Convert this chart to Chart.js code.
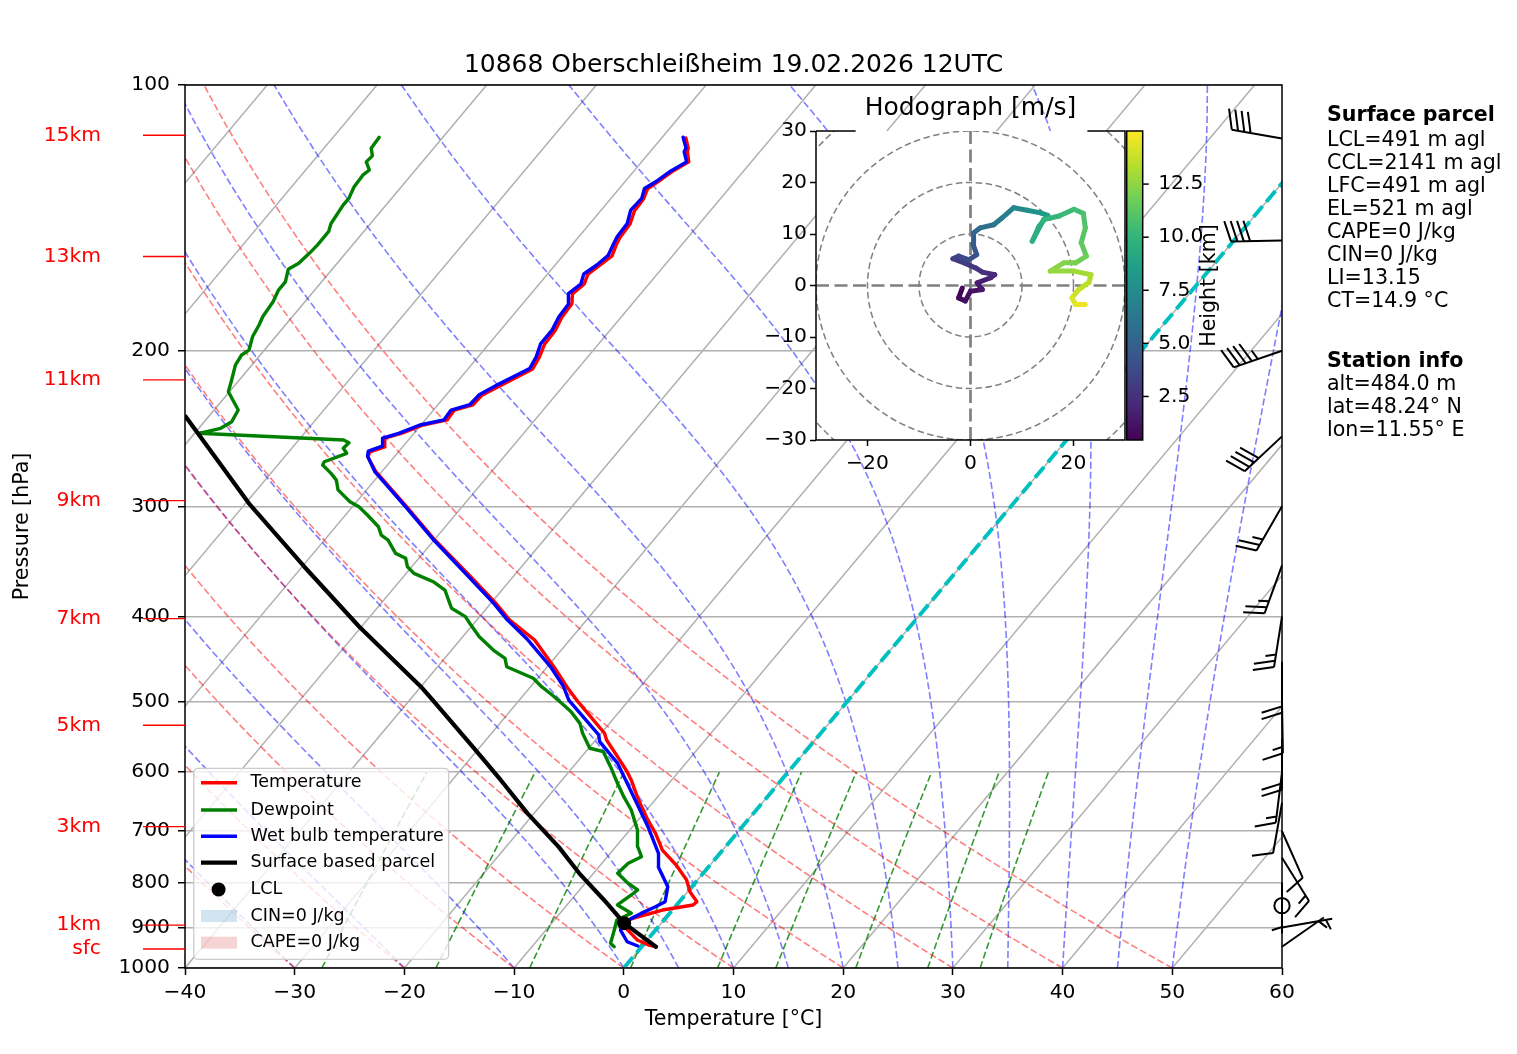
<!DOCTYPE html>
<html>
<head>
<meta charset="utf-8">
<title>10868 Oberschleißheim sounding</title>
<script src="https://cdn.jsdelivr.net/npm/chart.js@4.4.1/dist/chart.umd.min.js"></script>
<style>
  html, body { margin: 0; padding: 0; background: #fff; overflow: hidden; }
  #wrap { position: relative; width: 1517px; height: 1054px; }
  #skewChart { position: absolute; left: 0; top: 0; }
  #hodoChart { position: absolute; left: 740px; top: 80px; }
</style>
</head>
<body>
<div id="wrap">
  <canvas id="skewChart" width="1517" height="1054"></canvas>
  <canvas id="hodoChart" width="560" height="410"></canvas>
</div>
<script>
// ── Sounding (pressure hPa / temperature °C) ──
const tempP = [946, 941.8, 929.6, 913.5, 897.9, 882.4, 874.9, 859.7, 848.6, 841.3, 819.7, 795, 764.5, 735.2, 703.9, 680, 645.3, 612.4, 599.4, 578.8, 551.8, 542.2, 499.7, 480.2, 455.9, 425.2, 403.6, 386, 360.8, 327.8, 300.6, 274.3, 263.8, 260.4, 257, 251.1, 247.9, 242.7, 239.5, 233.4, 230.3, 224.4, 218.1, 209.7, 203.2, 196.6, 189.5, 183.2, 177, 172.5, 168, 163.8, 160, 156.2, 151.4, 148.7, 143.7, 138.9, 134.5, 131.1, 128.7, 125.4, 122.2, 119, 117.9, 114.8];
const tempC = [1.3, 0.5, -0.9, -2.0, -3.1, -3.3, -2.6, -0.9, 1.5, 1.6, 0.2, -1.0, -3.1, -5.5, -7.4, -9.1, -11.5, -13.7, -14.7, -16.5, -19.0, -19.7, -24.5, -26.7, -29.4, -33.2, -37.0, -39.6, -43.8, -49.9, -55.0, -60.5, -62.4, -62.6, -61.6, -62.3, -61.1, -59.8, -58.0, -58.1, -56.8, -56.7, -55.6, -54.1, -54.4, -54.9, -55.0, -55.4, -55.5, -56.2, -55.9, -56.3, -55.9, -55.5, -56.0, -56.2, -56.3, -56.9, -57.0, -57.4, -57.0, -56.5, -55.7, -56.6, -56.8, -57.8];

const dewP = [946, 937.6, 913.5, 882.4, 867, 848.4, 826.6, 815.8, 801.7, 781.1, 761, 748, 728.9, 697.8, 662.3, 639.7, 617.7, 591.6, 568.9, 563.8, 542.2, 528.4, 512.5, 501.4, 490.7, 480.2, 469.8, 455.9, 446, 436.4, 421.5, 407, 400, 391.4, 383.1, 373.2, 365.2, 357.3, 351.2, 343.6, 339.2, 327.6, 323.4, 316.4, 306.9, 300.4, 296.5, 287.4, 280.2, 275.3, 269.4, 267.1, 261.3, 257.9, 254.2, 252.4, 248, 244.8, 240.6, 233.4, 222.5, 215.8, 207.5, 202.2, 199.6, 192.8, 187, 183, 176, 170.7, 167.1, 161.7, 159.2, 155.1, 151.8, 146.6, 143.5, 136.8, 134.4, 130.4, 126.5, 124.8, 122.2, 120.3, 117.9, 114.6];
const dewC = [-2.5, -3.1, -3.6, -4.3, -3.5, -5.4, -4.9, -4.7, -6.1, -7.8, -7.6, -6.9, -8.0, -9.3, -11.4, -13.1, -14.7, -16.6, -18.4, -19.9, -21.7, -22.7, -24.4, -25.9, -27.4, -29.0, -30.4, -33.7, -34.5, -36.2, -38.5, -40.4, -41.3, -43.2, -44.1, -45.2, -46.9, -49.3, -50.4, -51.2, -52.5, -54.2, -55.2, -56.1, -58.0, -59.4, -60.6, -62.6, -63.5, -64.5, -65.9, -66.0, -64.6, -65.3, -65.2, -65.9, -79.6, -78.0, -77.5, -77.8, -80.1, -80.7, -81.5, -81.7, -81.4, -82.1, -82.4, -82.7, -82.9, -83.3, -83.3, -84.0, -83.5, -83.3, -83.2, -83.2, -83.6, -83.9, -83.9, -84.3, -84.4, -84.2, -85.1, -85.0, -85.7, -85.8];

const wetP = [944.2, 933.8, 905.8, 889.6, 878.6, 867.3, 852.3, 841.3, 809.1, 767.9, 741.6, 691.8, 656.6, 615.2, 586.5, 554.2, 544.6, 497.2, 480.2, 455.9, 425.2, 403.6, 386, 360.8, 327.8, 300.6, 274.3, 263.1, 259.8, 256.5, 251.1, 248, 242.7, 239.5, 233.4, 230.2, 224.3, 218, 209.5, 203.2, 196.3, 189.5, 183, 177, 172.3, 168.1, 163.7, 159.9, 155.9, 151.2, 148.6, 143.5, 138.6, 134.4, 131, 128.7, 125.4, 122.2, 119, 117.9, 114.6];
const wetC = [-0.4, -1.7, -3.2, -3.4, -3.1, -2.6, -1.8, -1.3, -2.2, -4.6, -5.6, -8.6, -11.0, -14.0, -16.2, -19.5, -20.1, -25.5, -27.0, -29.7, -33.8, -37.2, -39.8, -44.0, -50.0, -55.1, -60.6, -62.5, -62.8, -61.9, -62.5, -61.4, -60.1, -58.3, -58.4, -57.1, -57.0, -56.0, -54.4, -54.7, -55.3, -55.3, -55.7, -55.8, -56.6, -56.2, -56.7, -56.2, -55.9, -56.3, -56.5, -56.6, -57.3, -57.2, -57.7, -57.2, -56.7, -55.9, -56.9, -57.0, -58.1];

const parcelP = [946, 889.6, 837.5, 781.2, 729.1, 668.2, 612.4, 561.5, 497.2, 480.2, 410.7, 351.2, 297.7, 237.4];
const parcelC = [1.3, -3.4, -7.0, -11.3, -15.2, -20.6, -25.6, -30.7, -37.9, -40.0, -50.2, -59.8, -69.7, -82.1];
const lclP = 889.6;
const lclC = -3.4;

// ── Wind barbs (knots) ──
const barbP   = [115, 150, 200, 250, 300, 350, 400, 450, 500, 550, 600, 650, 700, 750, 800, 850, 900, 946];
const barbDir = [280, 269, 251, 227, 210, 200, 189, 180, 179, 180, 187, 190, 156, 148, 180, 0, 80, 55];
const barbKt  = [40, 40, 45, 40, 25, 25, 25, 20, 15, 20, 15, 10, 10, 15, 5, 0, 5, 5];

// ── Hodograph (m/s, height km) ──
const hodoU = [-1.6, -2.3, -1.0, 0.0, 2.3, 1.3, 3.9, 4.7, 2.3, 1.0, -1.0, -3.4, -2.3, -0.3, 1.2, 0.5, 0.6, 1.9, 4.5, 6.1, 8.4, 11.0, 13.6, 15.0, 13.3, 12.0, 14.2, 17.2, 20.1, 21.9, 22.3, 21.5, 22.5, 20.4, 18.1, 15.5, 20.1, 23.4, 23.0, 21.0, 19.7, 20.4, 22.3];
const hodoV = [-0.5, -2.4, -3.0, -1.1, -0.8, 0.5, 1.5, 2.1, 2.6, 3.4, 4.3, 5.2, 5.7, 5.0, 6.0, 8.0, 10.2, 11.2, 11.8, 13.1, 15.1, 14.6, 14.1, 13.6, 11.5, 8.6, 12.8, 13.5, 14.8, 14.0, 11.2, 8.3, 5.7, 4.4, 4.4, 2.8, 2.8, 2.1, 0.6, -0.8, -2.4, -3.7, -3.7];
const hodoH = [0.48, 0.7, 0.9, 1.1, 1.3, 1.5, 1.8, 2.0, 2.3, 2.6, 2.9, 3.2, 3.5, 3.8, 4.1, 4.5, 5.0, 5.5, 6.0, 6.5, 7.0, 7.5, 8.0, 8.5, 9.0, 9.4, 9.8, 10.1, 10.4, 10.7, 11.0, 11.3, 11.6, 11.9, 12.2, 12.5, 12.8, 13.1, 13.4, 13.7, 14.0, 14.4, 14.8];
const hodoHMin = 0.45;
const hodoHMax = 15.0;
const hodoRings = [10, 20, 30, 40];
const hodoTicksX = [-20, 0, 20];
const hodoTicksY = [-30, -20, -10, 0, 10, 20, 30];
const cbTicks = [2.5, 5.0, 7.5, 10.0, 12.5];

// ── Axes, reference lines, labels ──
const pressureTicks = [100, 200, 300, 400, 500, 600, 700, 800, 900, 1000];
const tempTicks = [-40, -30, -20, -10, 0, 10, 20, 30, 40, 50, 60];
const isoTemps = [-120, -110, -100, -90, -80, -70, -60, -50, -40, -30, -20, -10, 0, 10, 20, 30, 40, 50, 60];
const dryT0 = [-40, -30, -20, -10, 0, 10, 20, 30, 40, 50];
const moistT0 = [-40, -30, -20, -10, 0, 5, 10, 15, 20, 25, 30, 35, 40, 45, 50];
const mixRatios = [0.0004, 0.001, 0.002, 0.004, 0.007, 0.01, 0.016, 0.024, 0.032];
const heightLabels = ['15km', '13km', '11km', '9km', '7km', '5km', '3km', '1km', 'sfc'];
const heightP = [114, 156.4, 215.7, 295.6, 402, 531, 691.5, 894, 951.6];

const titleText = '10868 Oberschleißheim 19.02.2026 12UTC';
const parcelInfo = ['LCL=491 m agl', 'CCL=2141 m agl', 'LFC=491 m agl', 'EL=521 m agl', 'CAPE=0 J/kg', 'CIN=0 J/kg', 'LI=13.15', 'CT=14.9 °C'];
const stationInfo = ['alt=484.0 m', 'lat=48.24° N', 'lon=11.55° E'];

const FONT = 'DejaVu Sans';
const RED = '#ff0000';
const GREEN = '#008000';
const BLUE = '#0000ff';
const GRID = '#b0b0b0';
const VIRIDIS = ['#440154', '#482878', '#3e4989', '#31688e', '#26828e', '#1f9e89', '#35b779', '#6ece58', '#b5de2b', '#fde725'];

Chart.defaults.font.family = FONT;
Chart.defaults.font.size = 20.3;
Chart.defaults.color = '#000';

const minus = v => String(v).replace('-', '\u2212');

// skew-T projection: isotherms lean right by SKEW °C per pressure decade
const SKEW = 67.5;
const skewX = (t, p) => t + SKEW * Math.log10(1000 / p);
const toPoints = (pArr, tArr) => pArr.map((p, i) => ({ x: skewX(tArr[i], p), y: p }));

// thermodynamic reference curves
const Rd = 287.04749, Cpd = 1004.6662, Lv = 2.50084e6, EPS = 0.6219569;
const satVap = tc => 6.112 * Math.exp(17.67 * tc / (tc + 243.5));
const levels = [];
for (let p = 1000; p >= 100; p -= 10) levels.push(p);
const mixLevels = [];
for (let p = 1000; p >= 600; p -= 25) mixLevels.push(p);

function dryAdiabat(t0) {
    return levels.map(p => (t0 + 273.15) * Math.pow(p / 1000, Rd / Cpd) - 273.15);
}
function moistGradient(p, tk) {
    const es = satVap(tk - 273.15);
    const rs = EPS * es / (p - es);
    return (Rd * tk + Lv * rs) / (Cpd + Lv * Lv * rs * EPS / (Rd * tk * tk)) / p;
}
function moistAdiabat(t0) {
    let tk = t0 + 273.15;
    const out = [t0];
    for (let i = 1; i < levels.length; i++) {
        const p = levels[i - 1], h = levels[i] - p;
        const k1 = moistGradient(p, tk);
        const k2 = moistGradient(p + h / 2, tk + h * k1 / 2);
        const k3 = moistGradient(p + h / 2, tk + h * k2 / 2);
        const k4 = moistGradient(p + h, tk + h * k3);
        tk += h * (k1 + 2 * k2 + 2 * k3 + k4) / 6;
        out.push(tk - 273.15);
    }
    return out;
}
function mixingLine(w) {
    return mixLevels.map(p => {
        const l = Math.log(p * w / (EPS + w) / 6.112);
        return 243.5 * l / (17.67 - l);
    });
}

function viridis(t) {
    t = Math.max(0, Math.min(1, t));
    const f = t * 9, i = Math.min(8, Math.floor(f)), r = f - i;
    const a = VIRIDIS[i], b = VIRIDIS[i + 1];
    const c = k => Math.round(parseInt(a.substr(k, 2), 16) * (1 - r) + parseInt(b.substr(k, 2), 16) * r);
    return `rgb(${c(1)},${c(3)},${c(5)})`;
}

// ── Datasets ──
const ref = (data, color, width, dash, order) => ({
    data, borderColor: color, borderWidth: width, borderDash: dash,
    pointRadius: 0, order, clip: 0, borderCapStyle: 'butt'
});
const datasets = [];
isoTemps.forEach(t => datasets.push(ref([{ x: t, y: 1000 }, { x: skewX(t, 100), y: 100 }], GRID, 1.5, [], 60)));
dryT0.forEach(t => datasets.push(ref(toPoints(levels, dryAdiabat(t)), 'rgba(255,0,0,0.5)', 1.6, [7, 3], 50)));
moistT0.forEach(t => datasets.push(ref(toPoints(levels, moistAdiabat(t)), 'rgba(0,0,255,0.5)', 1.6, [7, 3], 50)));
mixRatios.forEach(w => datasets.push(ref(toPoints(mixLevels, mixingLine(w)), 'rgba(0,128,0,0.8)', 1.6, [7, 3], 50)));
datasets.push(ref([{ x: 0, y: 1000 }, { x: skewX(0, 100), y: 100 }], '#00bfbf', 3.9, [14, 6], 40));

const profile = (pArr, tArr, color, width, order) => ({
    data: toPoints(pArr, tArr), borderColor: color, borderWidth: width,
    pointRadius: 0, order, clip: 0, borderJoinStyle: 'round', borderCapStyle: 'round'
});
datasets.push(profile(tempP, tempC, RED, 3.4, 6));
datasets.push(profile(dewP, dewC, GREEN, 3.4, 5));
datasets.push(profile(wetP, wetC, BLUE, 3.4, 4));
datasets.push(profile(parcelP, parcelC, '#000', 4.2, 3));
datasets.push({
    data: [{ x: skewX(lclC, lclP), y: lclP }], showLine: false, order: 2, clip: 0,
    pointRadius: 7, pointBackgroundColor: '#000', pointBorderWidth: 0
});

// ── Wind barb ──
function drawBarb(ctx, x0, y0, dir, kt) {
    const L = 51, H = 0.4 * L, W = 0.25 * L, S = 0.125 * L;
    ctx.beginPath();
    if (kt < 2.5) {
        ctx.arc(x0, y0, 0.15 * L, 0, 2 * Math.PI);
        ctx.stroke();
        return;
    }
    const a = dir * Math.PI / 180;
    const sx = Math.sin(a), sy = -Math.cos(a);
    const px = -sy, py = sx;
    const tx = x0 + L * sx, ty = y0 + L * sy;
    ctx.moveTo(x0, y0);
    ctx.lineTo(tx, ty);
    let rest = Math.round(kt / 5) * 5;
    const flags = Math.floor(rest / 50); rest -= flags * 50;
    const full = Math.floor(rest / 10); rest -= full * 10;
    let off = 0;
    for (let i = 0; i < flags; i++) {
        const bx = tx - sx * off, by = ty - sy * off;
        ctx.moveTo(bx, by);
        ctx.lineTo(bx + px * H - sx * W / 2, by + py * H - sy * W / 2);
        ctx.lineTo(bx - sx * W, by - sy * W);
        off += W + S / 2;
    }
    for (let i = 0; i < full; i++) {
        const bx = tx - sx * off, by = ty - sy * off;
        ctx.moveTo(bx, by);
        ctx.lineTo(bx + px * H + sx * W / 2, by + py * H + sy * W / 2);
        off += S;
    }
    if (rest >= 5) {
        if (flags + full === 0) off += S;
        const bx = tx - sx * off, by = ty - sy * off;
        ctx.moveTo(bx, by);
        ctx.lineTo(bx + px * H / 2 + sx * W / 4, by + py * H / 2 + sy * W / 4);
    }
    ctx.stroke();
}

// ── Frame, labels, legend, barbs, info text ──
const skewDecor = {
    id: 'skewDecor',
    afterDraw(chart) {
        const { ctx, chartArea: a, scales: { y } } = chart;
        ctx.save();
        ctx.strokeStyle = '#000';
        ctx.lineWidth = 1.5;
        ctx.strokeRect(a.left, a.top, a.right - a.left, a.bottom - a.top);

        // height markers
        ctx.strokeStyle = RED;
        ctx.fillStyle = RED;
        ctx.lineWidth = 1.3;
        ctx.font = `20.3px ${FONT}`;
        ctx.textAlign = 'right';
        ctx.textBaseline = 'middle';
        heightP.forEach((p, i) => {
            const yy = y.getPixelForValue(p);
            ctx.beginPath();
            ctx.moveTo(a.left - 42, yy);
            ctx.lineTo(a.left, yy);
            ctx.stroke();
            ctx.fillText(heightLabels[i], a.left - 84, yy);
        });

        // titles
        ctx.fillStyle = '#000';
        ctx.textAlign = 'center';
        ctx.font = `25px ${FONT}`;
        ctx.fillText(titleText, (a.left + a.right) / 2, 65);
        ctx.font = `20.6px ${FONT}`;
        ctx.fillText('Temperature [°C]', (a.left + a.right) / 2, 1020);
        ctx.save();
        ctx.translate(23, (a.top + a.bottom) / 2);
        ctx.rotate(-Math.PI / 2);
        ctx.fillText('Pressure [hPa]', 0, 0);
        ctx.restore();

        // legend
        const lx = 193.8, ly = 768.3, lw = 254.8, lh = 191;
        ctx.beginPath();
        ctx.roundRect(lx, ly, lw, lh, 4);
        ctx.fillStyle = 'rgba(255,255,255,0.8)';
        ctx.fill();
        ctx.strokeStyle = '#cccccc';
        ctx.lineWidth = 1.3;
        ctx.stroke();
        const entries = [
            ['Temperature', 'line', RED, 3.4],
            ['Dewpoint', 'line', GREEN, 3.4],
            ['Wet bulb temperature', 'line', BLUE, 3.4],
            ['Surface based parcel', 'line', '#000', 4.2],
            ['LCL', 'dot', '#000', 0],
            ['CIN=0 J/kg', 'patch', 'rgba(31,119,180,0.2)', 0],
            ['CAPE=0 J/kg', 'patch', 'rgba(214,39,40,0.2)', 0]
        ];
        const rowY = [782.7, 810, 836.3, 862.7, 889.5, 916, 942.7];
        ctx.font = `17.5px ${FONT}`;
        ctx.textAlign = 'left';
        ctx.textBaseline = 'middle';
        entries.forEach(([label, kind, color, w], i) => {
            const yy = rowY[i];
            if (kind === 'line') {
                ctx.strokeStyle = color;
                ctx.lineWidth = w;
                ctx.beginPath();
                ctx.moveTo(201, yy);
                ctx.lineTo(237, yy);
                ctx.stroke();
            } else if (kind === 'dot') {
                ctx.fillStyle = color;
                ctx.beginPath();
                ctx.arc(218.6, yy, 7, 0, 2 * Math.PI);
                ctx.fill();
            } else {
                ctx.fillStyle = color;
                ctx.fillRect(201, yy - 6, 36, 12);
            }
            ctx.fillStyle = '#000';
            ctx.fillText(label, 250.6, yy);
        });

        // wind barbs on the right spine
        ctx.strokeStyle = '#000';
        ctx.lineWidth = 2;
        ctx.lineJoin = 'miter';
        ctx.setLineDash([]);
        barbP.forEach((p, i) => drawBarb(ctx, a.right, y.getPixelForValue(p), barbDir[i], barbKt[i]));

        // parcel / station info
        ctx.fillStyle = '#000';
        ctx.textBaseline = 'alphabetic';
        ctx.font = `bold 20.6px ${FONT}`;
        ctx.fillText('Surface parcel', 1327, 120.7);
        ctx.font = `20.6px ${FONT}`;
        parcelInfo.forEach((s, i) => ctx.fillText(s, 1327, 146 + 23 * i));
        ctx.font = `bold 20.6px ${FONT}`;
        ctx.fillText('Station info', 1327, 366.7);
        ctx.font = `20.6px ${FONT}`;
        stationInfo.forEach((s, i) => ctx.fillText(s, 1327, 390 + 22.9 * i));
        ctx.restore();
    }
};

new Chart(document.getElementById('skewChart'), {
    type: 'line',
    data: { datasets },
    options: {
        responsive: false,
        animation: false,
        layout: { padding: { left: 100, top: 85, right: 235, bottom: 0 } },
        plugins: { legend: { display: false }, tooltip: { enabled: false } },
        scales: {
            x: {
                type: 'linear', min: -40, max: 60,
                afterBuildTicks: s => { s.ticks = tempTicks.map(v => ({ value: v })); },
                ticks: { autoSkip: false, maxRotation: 0, padding: 6, callback: v => minus(v) },
                grid: { drawOnChartArea: false, tickLength: 7, tickWidth: 1.5, tickColor: '#000' },
                border: { display: false },
                afterFit: s => { s.height = 86; }
            },
            y: {
                type: 'logarithmic', reverse: true, min: 100, max: 1000,
                afterBuildTicks: s => { s.ticks = pressureTicks.map(v => ({ value: v })); },
                ticks: { autoSkip: false, padding: 8, callback: v => String(v) },
                grid: { color: GRID, lineWidth: 1.5, tickLength: 7, tickWidth: 1.5, tickColor: '#000' },
                border: { display: false },
                afterFit: s => { s.width = 85; }
            }
        }
    },
    plugins: [skewDecor]
});

// ── Hodograph inset ──
const hodoDecor = {
    id: 'hodoDecor',
    beforeDatasetsDraw(chart) {
        const { ctx, chartArea: a, scales: { x, y } } = chart;
        ctx.save();
        ctx.fillStyle = '#fff';
        ctx.fillRect(a.left, a.top, a.right - a.left, a.bottom - a.top);
        ctx.beginPath();
        ctx.rect(a.left, a.top, a.right - a.left, a.bottom - a.top);
        ctx.clip();
        const cx = x.getPixelForValue(0), cy = y.getPixelForValue(0);
        ctx.strokeStyle = '#808080';
        ctx.lineWidth = 1.5;
        ctx.setLineDash([6.5, 3.5]);
        hodoRings.forEach(r => {
            ctx.beginPath();
            ctx.arc(cx, cy, x.getPixelForValue(r) - cx, 0, 2 * Math.PI);
            ctx.stroke();
        });
        ctx.lineWidth = 2.7;
        ctx.setLineDash([13, 5.5]);
        ctx.beginPath();
        ctx.moveTo(a.left, cy); ctx.lineTo(a.right, cy);
        ctx.moveTo(cx, a.bottom); ctx.lineTo(cx, a.top);
        ctx.stroke();
        ctx.restore();
    },
    afterDraw(chart) {
        const { ctx, chartArea: a, scales: { x, cb } } = chart;
        ctx.save();
        ctx.strokeStyle = '#000';
        ctx.lineWidth = 1.5;
        ctx.beginPath();
        ctx.moveTo(a.left, a.top); ctx.lineTo(a.left, a.bottom);
        ctx.lineTo(a.right, a.bottom); ctx.lineTo(a.right, a.top);
        ctx.lineTo(x.getPixelForValue(22.7), a.top);
        ctx.moveTo(x.getPixelForValue(-22.3), a.top); ctx.lineTo(a.left, a.top);
        ctx.stroke();

        // colour bar
        const x0 = a.right + 1.7, w = 16;
        const g = ctx.createLinearGradient(0, cb.getPixelForValue(hodoHMin), 0, cb.getPixelForValue(hodoHMax));
        VIRIDIS.forEach((c, i) => g.addColorStop(i / 9, c));
        ctx.fillStyle = g;
        ctx.fillRect(x0, a.top, w, a.bottom - a.top);
        ctx.strokeRect(x0, a.top, w, a.bottom - a.top);
        ctx.fillStyle = '#000';
        ctx.font = `20.3px ${FONT}`;
        ctx.textAlign = 'left';
        ctx.textBaseline = 'middle';
        cbTicks.forEach(v => {
            const yy = cb.getPixelForValue(v);
            ctx.beginPath();
            ctx.moveTo(x0 + w, yy); ctx.lineTo(x0 + w + 6, yy);
            ctx.stroke();
            ctx.fillText(v.toFixed(1), x0 + w + 15.5, yy);
        });
        ctx.save();
        ctx.translate(470, (a.top + a.bottom) / 2);
        ctx.rotate(-Math.PI / 2);
        ctx.textAlign = 'center';
        ctx.font = `20.6px ${FONT}`;
        ctx.fillText('Height [km]', 0, 0);
        ctx.restore();

        ctx.textAlign = 'center';
        ctx.font = `25px ${FONT}`;
        ctx.fillText('Hodograph [m/s]', (a.left + a.right) / 2, 28);
        ctx.restore();
    }
};

new Chart(document.getElementById('hodoChart'), {
    type: 'scatter',
    data: {
        datasets: [{
            data: hodoU.map((u, i) => ({ x: u, y: hodoV[i] })),
            showLine: true,
            borderWidth: 5,
            borderCapStyle: 'round',
            borderJoinStyle: 'round',
            pointRadius: 0,
            clip: 0,
            segment: {
                borderColor: c => viridis(((hodoH[c.p0DataIndex] + hodoH[c.p1DataIndex]) / 2 - hodoHMin) / (hodoHMax - hodoHMin))
            }
        }]
    },
    options: {
        responsive: false,
        animation: false,
        layout: { padding: { left: 26, top: 51, right: 175, bottom: 5 } },
        plugins: { legend: { display: false }, tooltip: { enabled: false } },
        scales: {
            x: {
                type: 'linear', min: -30, max: 30,
                afterBuildTicks: s => { s.ticks = hodoTicksX.map(v => ({ value: v })); },
                ticks: { autoSkip: false, maxRotation: 0, padding: 6, callback: v => minus(v) },
                grid: { drawOnChartArea: false, tickLength: 6, tickWidth: 1.5, tickColor: '#000' },
                border: { display: false },
                afterFit: s => { s.height = 45; }
            },
            y: {
                type: 'linear', min: -30, max: 30,
                afterBuildTicks: s => { s.ticks = hodoTicksY.map(v => ({ value: v })); },
                ticks: { autoSkip: false, padding: 3, callback: v => minus(v) },
                grid: { drawOnChartArea: false, tickLength: 6, tickWidth: 1.5, tickColor: '#000' },
                border: { display: false },
                afterFit: s => { s.width = 50; }
            },
            cb: { type: 'linear', position: 'right', display: false, min: hodoHMin, max: hodoHMax }
        }
    },
    plugins: [hodoDecor]
});
</script>
</body>
</html>
